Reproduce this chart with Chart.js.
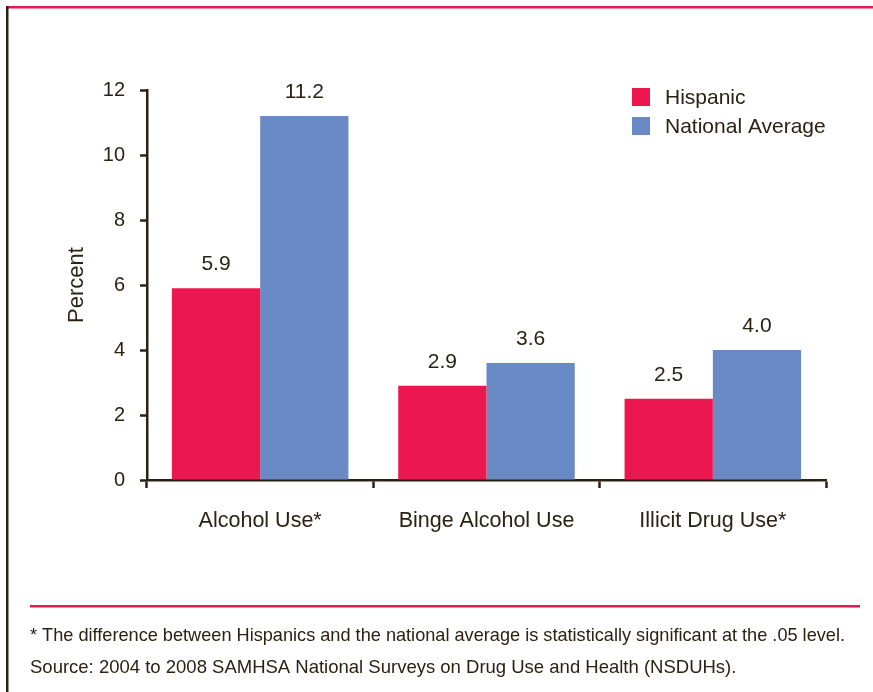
<!DOCTYPE html>
<html>
<head>
<meta charset="utf-8">
<script src="https://cdn.jsdelivr.net/npm/chart.js@4"></script>
<style>
  html, body { margin: 0; padding: 0; background: #fff; }
  #wrap { position: relative; width: 873px; height: 692px; }
</style>
</head>
<body>
<div id="wrap"><canvas id="chart" width="873" height="692"></canvas></div>
<script>
const categories = ["Alcohol Use*", "Binge Alcohol Use", "Illicit Drug Use*"];
const hispanic = [5.9, 2.9, 2.5];
const nationalAverage = [11.2, 3.6, 4.0];
const yTicks = [0, 2, 4, 6, 8, 10, 12];
const footnotes = [
  "* The difference between Hispanics and the national average is statistically significant at the .05 level.",
  "Source: 2004 to 2008 SAMHSA National Surveys on Drug Use and Health (NSDUHs)."
];

const PINK = "#ec174f";
const BLUE = "#6a8ac5";
const INK = "#2b2214";
const FONT = "'Liberation Sans', Arial, Helvetica, sans-serif";

// page frame, value labels, legend and footnotes
const decorations = {
  id: "decorations",
  afterDatasetsDraw(chart) {
    const ctx = chart.ctx;
    ctx.save();
    // value labels above each bar
    ctx.fillStyle = INK;
    ctx.font = "21px " + FONT;
    ctx.textAlign = "center";
    ctx.textBaseline = "middle";
    chart.data.datasets.forEach((ds, i) => {
      chart.getDatasetMeta(i).data.forEach((bar, j) => {
        ctx.fillText(ds.data[j].toFixed(1), bar.x, bar.y - 24);
      });
    });
    ctx.restore();
  },
  afterDraw(chart) {
    const ctx = chart.ctx;
    ctx.save();
    // frame
    ctx.fillStyle = PINK;
    ctx.fillRect(7, 6, 866, 2.5);
    ctx.fillStyle = INK;
    ctx.fillRect(6, 6, 2.5, 686);
    ctx.fillStyle = PINK;
    ctx.fillRect(30, 605, 830, 2.5);

    // legend
    ctx.textAlign = "left";
    ctx.textBaseline = "middle";
    ctx.font = "21px " + FONT;
    chart.data.datasets.forEach((ds, i) => {
      const y = 88 + i * 29;
      ctx.fillStyle = ds.backgroundColor;
      ctx.fillRect(632, y, 18, 18);
      ctx.fillStyle = INK;
      ctx.fillText(ds.label, 665, y + 10);
    });

    // footnotes
    ctx.font = "18.5px " + FONT;
    ctx.fillStyle = INK;
    ctx.fillText(footnotes[0], 30, 636, 815);
    ctx.fillText(footnotes[1], 30, 668, 712);
    ctx.restore();
  }
};

new Chart(document.getElementById("chart"), {
  type: "bar",
  data: {
    labels: categories,
    datasets: [
      { label: "Hispanic", data: hispanic, backgroundColor: PINK },
      { label: "National Average", data: nationalAverage, backgroundColor: BLUE }
    ]
  },
  options: {
    responsive: false,
    animation: false,
    devicePixelRatio: 1,
    layout: { padding: { left: 60, top: 90, right: 47, bottom: 152 } },
    datasets: { bar: { categoryPercentage: 0.78, barPercentage: 1.0 } },
    plugins: { legend: { display: false }, tooltip: { enabled: false } },
    scales: {
      x: {
        afterFit(scale) { scale.height = 60; },
        grid: { offset: true, drawOnChartArea: false, tickLength: 8, tickWidth: 2.5, tickColor: INK },
        border: { color: INK, width: 2.5 },
        ticks: { color: INK, font: { family: FONT, size: 21.5 }, padding: 20 }
      },
      y: {
        min: 0,
        max: 12,
        afterFit(scale) { scale.width = 87; },
        afterBuildTicks(scale) { scale.ticks = yTicks.map(v => ({ value: v })); },
        grid: { drawOnChartArea: false, tickLength: 7, tickWidth: 2.5, tickColor: INK },
        border: { color: INK, width: 2.5 },
        ticks: { color: INK, font: { family: FONT, size: 20 }, padding: 15 },
        title: { display: true, text: "Percent", color: INK, font: { family: FONT, size: 22 }, padding: { top: 4 } }
      }
    }
  },
  plugins: [decorations]
});
</script>
</body>
</html>
